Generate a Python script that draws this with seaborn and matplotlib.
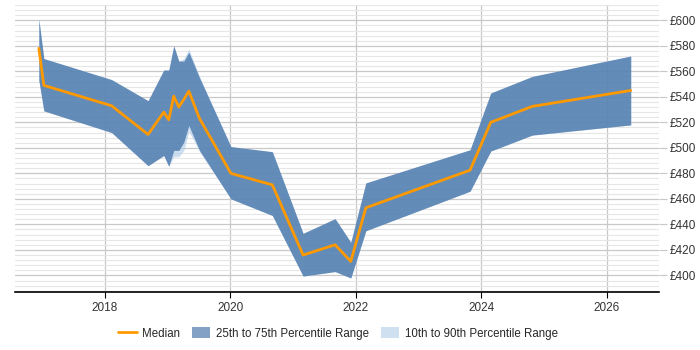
import numpy as np
import pandas as pd
import matplotlib
matplotlib.use("Agg")
import matplotlib.pyplot as plt
import seaborn as sns
from matplotlib.patches import Patch
from matplotlib.lines import Line2D
from matplotlib.ticker import MultipleLocator, FuncFormatter

# decimal years
years = [2016.95, 2017.03, 2018.11, 2018.69, 2018.94, 2019.02, 2019.10, 2019.18,
         2019.26, 2019.34, 2019.51, 2020.01, 2020.67, 2021.16, 2021.67, 2021.92,
         2022.16, 2023.82, 2024.15, 2024.81, 2026.38]
median = [578, 549, 533, 510.5, 528, 522, 540.5, 532,
          538, 544.5, 523, 480, 471, 416, 424, 411,
          453, 482.5, 520, 532.5, 545]
p25 = [553, 529, 512, 486, 494, 485.5, 498, 498,
       504.5, 517.5, 498, 460, 447, 399.5, 403, 398,
       435, 466, 497.5, 510, 518]
p75 = [601, 570, 553.5, 537, 561, 561, 580, 568,
       568, 575, 555, 501, 497, 433, 444.5, 426,
       472.5, 498.5, 543, 556, 572]
p10 = [553, 529, 512, 486, 494, 485.5, 493, 493,
       498, 513, 497, 460, 447, 399.5, 403, 398,
       435, 466, 497.5, 510, 518]
p90 = [601, 570, 553.5, 537, 561, 561, 580, 568,
       570, 577.5, 556, 501, 497, 433, 444.5, 426,
       472.5, 498.5, 543, 556, 572]

df = pd.DataFrame({"year": years, "median": median,
                   "p10": p10, "p25": p25, "p75": p75, "p90": p90})

sns.set_style("white")
plt.rcParams["font.family"] = ["Liberation Sans", "DejaVu Sans"]

fig = plt.figure(figsize=(7, 3.5), dpi=100)
ax = fig.add_axes([0.0214, 0.165, 0.92, 0.8207])

light = "#b3cde8"
dark = "#4a78ab"
orange = "#ff9900"

ax.fill_between(df["year"], df["p10"], df["p90"], color=light, alpha=0.65, lw=0, zorder=2)
ax.fill_between(df["year"], df["p25"], df["p75"], color=dark, alpha=0.8, lw=0, zorder=3)
sns.lineplot(data=df, x="year", y="median", color=orange, lw=2, ax=ax, zorder=4)

ax.set_xlim(2016.57, 2026.83)
ax.set_ylim(386.8, 612)

ax.yaxis.tick_right()
ax.yaxis.set_major_locator(MultipleLocator(20))
ax.yaxis.set_minor_locator(MultipleLocator(4))
ax.yaxis.set_major_formatter(FuncFormatter(lambda v, p: f"£{v:.0f}"))
ax.set_xticks([2018, 2020, 2022, 2024, 2026])
ax.set_xticklabels(["2018", "2020", "2022", "2024", "2026"])

ax.grid(which="major", axis="both", color="#c8c8c8", lw=0.9, zorder=0)
ax.grid(which="minor", axis="y", color="#e6e6e6", lw=0.8, zorder=0)
ax.set_axisbelow(True)

for s in ["top", "left", "right"]:
    ax.spines[s].set_visible(False)
ax.spines["bottom"].set_color("black")
ax.spines["bottom"].set_linewidth(1.2)

ax.tick_params(axis="x", which="major", length=4, color="black", labelsize=8.5,
               labelcolor="#333333", pad=3, bottom=True)
ax.tick_params(axis="y", which="major", length=6, color="#c8c8c8", labelsize=8.5,
               labelcolor="#333333", pad=2, right=True)
ax.tick_params(axis="y", which="minor", length=0)
ax.set_xlabel("")
ax.set_ylabel("")

handles = [Line2D([0], [0], color=orange, lw=2),
           Patch(facecolor="#82a1c4", edgecolor="none"),
           Patch(facecolor="#cfe0f0", edgecolor="none")]
labels = ["Median", "25th to 75th Percentile Range", "10th to 90th Percentile Range"]
fig.legend(handles, labels, loc="center", bbox_to_anchor=(0.483, 0.047), ncol=3,
           frameon=False, fontsize=8.3, handlelength=1.6, handleheight=1.0,
           columnspacing=1.0, handletextpad=0.5)

fig.savefig("out.png", dpi=100)
